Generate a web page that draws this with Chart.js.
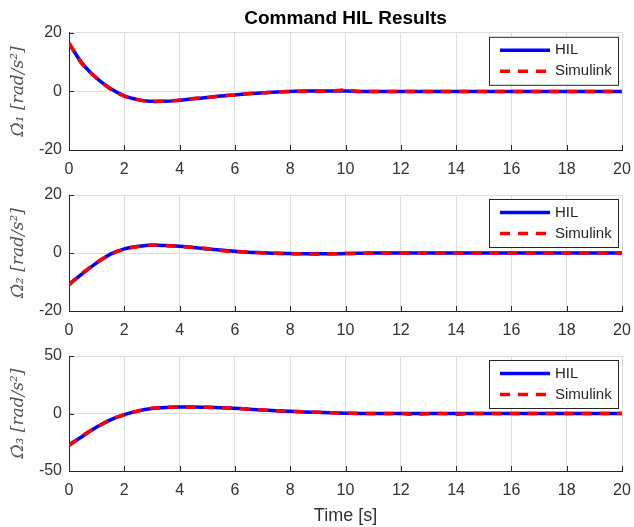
<!DOCTYPE html>
<html>
<head>
<meta charset="utf-8">
<script src="https://cdn.jsdelivr.net/npm/chart.js@4.4.1/dist/chart.umd.min.js"></script>
<style>
  body { margin: 0; background: #fff; }
  #wrap { position: relative; width: 634px; height: 527px; }
  canvas { position: absolute; left: 0; }
</style>
</head>
<body>
<div id="wrap">
  <canvas id="c1" width="634" height="178" style="top:0"></canvas>
  <canvas id="c2" width="634" height="160" style="top:178px"></canvas>
  <canvas id="c3" width="634" height="189" style="top:338px"></canvas>
</div>
<script>
// time samples [s]
const time = [0, 0.5, 1, 1.5, 2, 2.5, 3, 3.5, 4, 4.5, 5, 5.5, 6, 6.5, 7, 7.5, 8, 8.5, 9, 9.5,
  10, 10.5, 11, 11.5, 12, 12.5, 13, 13.5, 14, 14.5, 15, 15.5, 16, 16.5, 17, 17.5, 18, 18.5, 19, 19.5, 20];

// angular acceleration, axis 1
const hil1 = [16.3, 9.3, 4.5, 1.0, -1.5, -2.8, -3.4, -3.4, -3.0, -2.5, -2.1, -1.6, -1.2, -0.8, -0.5, -0.2, 0.0, 0.1, 0.1, 0.1,
  0.1, 0, 0, 0, 0, 0, 0, 0, 0, 0, 0, 0, 0, 0, 0, 0, 0, 0, 0, 0, 0];
const sim1 = [16.5, 9.0, 4.6, 0.8, -1.6, -2.9, -3.5, -3.3, -3.0, -2.4, -2.1, -1.5, -1.2, -0.7, -0.5, -0.2, 0.0, 0.0, 0.0, 0.1,
  0.5, 0, 0, 0, 0, 0, 0, 0, 0, 0, 0, 0, 0, 0, 0, 0, 0, 0, 0, 0, 0];

// axis 2
const hil2 = [-10.8, -7.0, -3.4, -0.4, 1.4, 2.3, 2.7, 2.6, 2.3, 1.9, 1.4, 1.0, 0.6, 0.3, 0.1, -0.1, -0.2, -0.3, -0.3, -0.3,
  -0.2, -0.1, 0, 0, 0, 0, 0, 0, 0, 0, 0, 0, 0, 0, 0, 0, 0, 0, 0, 0, 0];
const sim2 = [-11.0, -6.8, -3.3, -0.5, 1.3, 2.2, 2.8, 2.6, 2.2, 1.9, 1.5, 0.9, 0.5, 0.3, 0.0, -0.1, -0.3, -0.3, -0.4, -0.3,
  -0.2, -0.1, 0, 0, 0, 0, 0, 0, 0, 0, 0, 0, 0, 0, 0, 0, 0, 0, 0, 0, 0];

// axis 3
const hil3 = [-27.5, -19.5, -11.8, -5.5, -1.0, 2.3, 4.4, 5.3, 5.6, 5.6, 5.4, 5.0, 4.5, 3.7, 3.0, 2.4, 1.9, 1.4, 1.0, 0.6,
  0.3, 0.1, 0, 0, 0, 0, 0, 0, 0, 0, 0, 0, 0, 0, 0, 0, 0, 0, 0, 0, 0];
const sim3 = [-28.0, -19.0, -12.0, -5.3, -1.2, 2.2, 4.6, 5.3, 5.7, 5.5, 5.5, 4.9, 4.6, 3.6, 3.1, 2.3, 2.0, 1.3, 1.0, 0.7,
  0.4, 0.1, 0, 0, 0, -0.7, -0.2, 0, -0.7, 0, 0, 0, 0, 0, 0, 0, 0, 0, 0, 0, 0];

const yLabels = ['\u03A9\u0307\u2081 [rad/s\u00B2]', '\u03A9\u0307\u2082 [rad/s\u00B2]', '\u03A9\u0307\u2083 [rad/s\u00B2]'];
const yRanges = [[-20, 20, 20], [-20, 20, 20], [-50, 50, 50]];
const seriesNames = ['HIL', 'Simulink'];

const AX = '#262626';
const GRID = '#dcdcdc';
const SANS = '"Liberation Sans", Arial, sans-serif';

// legend drawn as a framed box in the upper right of the plot area
const boxLegend = {
  id: 'boxLegend',
  afterDatasetsDraw(chart) {
    const { ctx, chartArea } = chart;
    const w = 130, h = 49;
    const x = chartArea.right - 3 - w, y = chartArea.top + 4;
    ctx.save();
    ctx.fillStyle = '#fff';
    ctx.fillRect(x, y, w, h);
    ctx.strokeStyle = AX;
    ctx.lineWidth = 1;
    ctx.strokeRect(x + 0.5, y + 0.5, w - 1, h - 1);
    chart.data.datasets.forEach((ds, i) => {
      const ly = y + 13.5 + i * 21;
      ctx.beginPath();
      ctx.strokeStyle = ds.borderColor;
      ctx.lineWidth = ds.borderWidth;
      ctx.setLineDash(ds.borderDash || []);
      ctx.moveTo(x + 11, ly);
      ctx.lineTo(x + 61, ly);
      ctx.stroke();
      ctx.setLineDash([]);
      ctx.fillStyle = AX;
      ctx.font = '15px ' + SANS;
      ctx.textBaseline = 'middle';
      ctx.fillText(ds.label, x + 66, ly);
    });
    ctx.restore();
  }
};

// short inward tick marks on the bottom and left axes
const innerTicks = {
  id: 'innerTicks',
  afterDraw(chart) {
    const { ctx, chartArea, scales } = chart;
    ctx.save();
    ctx.strokeStyle = AX;
    ctx.lineWidth = 1;
    ctx.beginPath();
    scales.x.ticks.forEach(t => {
      const px = Math.round(scales.x.getPixelForValue(t.value)) + 0.5;
      ctx.moveTo(px, chartArea.bottom);
      ctx.lineTo(px, chartArea.bottom - 5);
    });
    scales.y.ticks.forEach(t => {
      const py = Math.round(scales.y.getPixelForValue(t.value)) + 0.5;
      ctx.moveTo(chartArea.left, py);
      ctx.lineTo(chartArea.left + 5, py);
    });
    ctx.stroke();
    ctx.restore();
  }
};

function pts(vals) {
  return time.map((t, i) => ({ x: t, y: vals[i] }));
}

function makeChart(id, idx, hil, sim, opt) {
  const [ymin, ymax, ystep] = yRanges[idx];
  return new Chart(document.getElementById(id), {
    type: 'line',
    data: {
      datasets: [
        { label: seriesNames[0], data: pts(hil), borderColor: '#0000ff', borderWidth: 3.5,
          pointRadius: 0, cubicInterpolationMode: 'monotone', order: 1 },
        { label: seriesNames[1], data: pts(sim), borderColor: '#ff0000', borderWidth: 3.5,
          borderDash: [10, 8], pointRadius: 0, cubicInterpolationMode: 'monotone', order: 0 }
      ]
    },
    options: {
      responsive: false,
      devicePixelRatio: 1,
      animation: false,
      layout: { padding: { left: 0, right: 12, top: opt.padTop, bottom: 0 } },
      plugins: {
        legend: { display: false },
        tooltip: { enabled: false },
        title: opt.title ? {
          display: true, text: opt.title, fullSize: false, color: '#000',
          font: { family: SANS, size: 19, weight: 'bold' },
          padding: { top: 7, bottom: 3 }
        } : { display: false }
      },
      scales: {
        x: {
          type: 'linear', min: 0, max: 20,
          ticks: { stepSize: 2, padding: 10, color: '#333', maxRotation: 0,
                   font: { family: SANS, size: 16 } },
          grid: { color: GRID, drawTicks: false },
          border: { color: AX, width: 1 },
          title: opt.xTitle ? {
            display: true, text: opt.xTitle, color: '#333',
            font: { family: SANS, size: 18 },
            padding: { top: 0, bottom: 0 }
          } : { display: false },
          afterFit(s) {
            s.height = opt.xHeight;
            s.paddingLeft = 0;
            s.paddingRight = 0;
          }
        },
        y: {
          min: ymin, max: ymax,
          ticks: { stepSize: ystep, padding: 7, color: '#333',
                   font: { family: SANS, size: 16 } },
          grid: { color: GRID, drawTicks: false },
          border: { color: AX, width: 1 },
          title: {
            display: true, text: yLabels[idx], color: '#555',
            font: { family: '"DejaVu Serif", serif', size: 17, style: 'italic' },
            padding: { top: 8, bottom: 0 }
          },
          afterFit(s) {
            s.width = 69;
            s.paddingTop = 0;
            s.paddingBottom = 0;
          }
        }
      }
    },
    plugins: [boxLegend, innerTicks]
  });
}

makeChart('c1', 0, hil1, sim1, { padTop: 0, title: 'Command HIL Results', xHeight: 28 });
makeChart('c2', 1, hil2, sim2, { padTop: 17, xHeight: 27 });
makeChart('c3', 2, hil3, sim3, { padTop: 18, xHeight: 56, xTitle: 'Time [s]' });
</script>
</body>
</html>
